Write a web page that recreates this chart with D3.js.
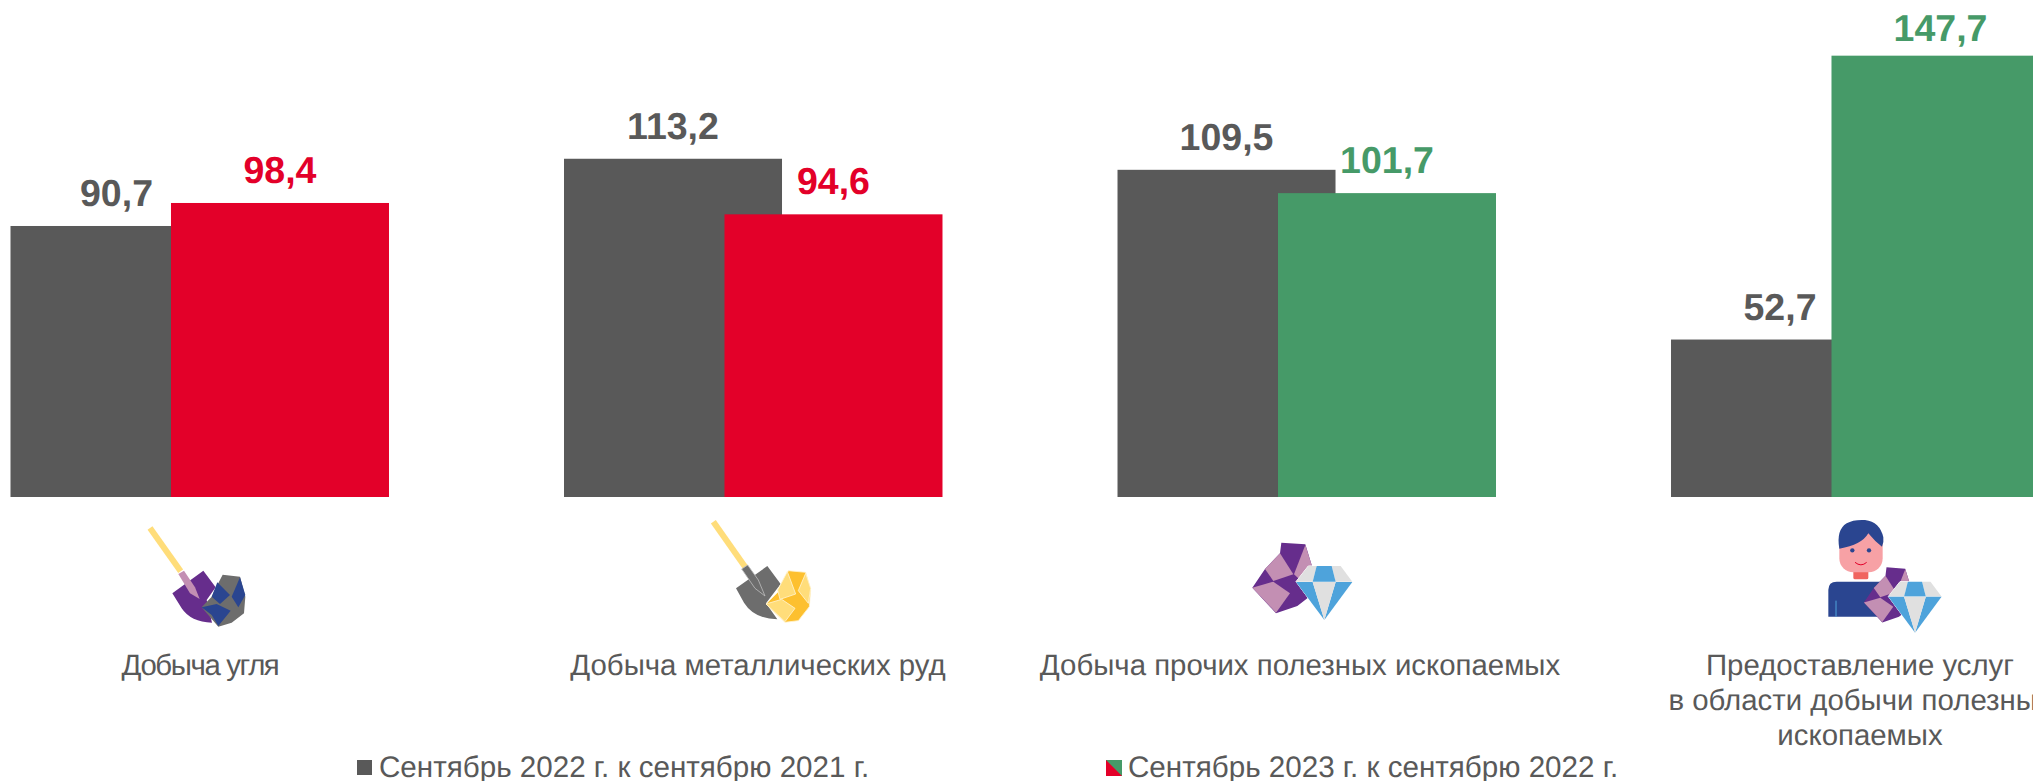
<!DOCTYPE html>
<html lang="ru"><head><meta charset="utf-8">
<script src="https://cdn.jsdelivr.net/npm/d3@7"></script>
<style>html,body{margin:0;padding:0;background:#fff;overflow:hidden}svg{display:block}text{font-family:"Liberation Sans",Arial,sans-serif;text-rendering:geometricPrecision}</style>
</head><body><svg id="c" width="2033" height="781"></svg>
<script>
const categories = ["Добыча угля","Добыча металлических руд","Добыча прочих полезных ископаемых","Предоставление услуг\nв области добычи полезных\nископаемых"];
const seriesNames = ["Сентябрь 2022 г. к сентябрю 2021 г.","Сентябрь 2023 г. к сентябрю 2022 г."];
const values2022 = [90.7,113.2,109.5,52.7];
const values2023 = [98.4,94.6,101.7,147.7];

const GRAY="#595959",RED="#E30029",GREEN="#469A68",TXT="#595959";
const YELLOW="#FFDD7A",PINK="#C38FB3",PURPLE="#662D8C",NAVY="#2A4590",ROCK="#6D6D6D",GOLD="#FDC02F",SKY="#4EA3DB",PALE="#E0E0E0";
const svg=d3.select("#c");
const fmt=v=>d3.format(".1f")(v).replace(".",",");
const x0=d3.scaleBand().domain(categories).range([10.5,2049.5]).paddingInner(.3162).paddingOuter(0);
const barW=x0.bandwidth()*.576;
const x1=d3.scalePoint().domain([0,1]).range([0,x0.bandwidth()-barW]);
const y=d3.scaleLinear().domain([0,150]).range([497,48.8]);
const colorB=v=>v>=100?GREEN:RED;
const rows=categories.map((c,i)=>[{c,s:0,i,v:values2022[i],col:GRAY},{c,s:1,i,v:values2023[i],col:colorB(values2023[i])}]);
const g=svg.selectAll("g.cat").data(rows).join("g").attr("class","cat");
g.selectAll("rect").data(d=>d).join("rect")
 .attr("x",d=>x0(d.c)+x1(d.s)).attr("width",barW)
 .attr("y",d=>y(d.v)).attr("height",d=>y(0)-y(d.v)).attr("fill",d=>d.col);
const labelNudge=[[-3,0],[0,0],[0,0],[0,0]];
const labelGap=d=>(d.i===3&&d.s===1)?15:20;
g.selectAll("text").data(d=>d).join("text")
 .attr("x",d=>x0(d.c)+x1(d.s)+barW/2+labelNudge[d.i][d.s]).attr("y",d=>y(d.v)-labelGap(d))
 .attr("text-anchor","middle").attr("font-size",37.5).attr("font-weight",700)
 .attr("fill",d=>d.col).text(d=>fmt(d.v));

// category labels
const labelCenter=[200,758,1300,1860];
const labelSpacing=[-1.4,0,0,0];
svg.selectAll("text.lab").data(categories).join("text").attr("class","lab")
 .attr("text-anchor","middle").attr("font-size",29.4).attr("fill",TXT)
 .attr("letter-spacing",(d,i)=>labelSpacing[i])
 .each(function(d,i){d3.select(this).selectAll("tspan").data(d.split("\n")).join("tspan")
   .attr("x",labelCenter[i]).attr("y",(t,j)=>675+j*35).text(t=>t);});

// legend
const lg=svg.append("g");
const lx=[357,1106];
lg.append("rect").attr("x",lx[0]).attr("y",760).attr("width",15).attr("height",15).attr("fill",GRAY);
lg.append("rect").attr("x",lx[1]).attr("y",760).attr("width",16).attr("height",16).attr("fill",GREEN);
lg.append("path").attr("d",d3.line()([[lx[1],760],[lx[1]+16,776],[lx[1],776]])+"Z").attr("fill",RED);
lg.selectAll("text").data(seriesNames).join("text").attr("x",(d,i)=>lx[i]+(i?22:22)).attr("y",777)
 .attr("font-size",29.6).attr("fill",TXT).text(d=>d);

// icons, drawn in 3x crop units
function icon(ox,oy){return svg.append("g").attr("transform",`translate(${ox},${oy}) scale(${1/3})`);}
function poly(p,pts,fill,stroke){return p.append("polygon").attr("points",pts).attr("fill",fill).attr("stroke",stroke||"none").attr("stroke-width",stroke?2.5:0).attr("stroke-linejoin","round");}
function line(p,a,col,w){p.append("line").attr("x1",a[0]).attr("y1",a[1]).attr("x2",a[2]).attr("y2",a[3]).attr("stroke",col).attr("stroke-width",w);}

const i1=icon(100,500);
line(i1,[150,84,242,214],YELLOW,18);
i1.append("path").attr("d","M217,280 L310,212 L347,262 L320,300 L336,368 Q272,366 245,325 Z").attr("fill",PURPLE);
poly(i1,"235,222 252,212 285,262 299,297 270,280",PINK);
poly(i1,"368,224 420,230 436,290 432,340 395,368 355,380 305,322 335,290 352,255",ROCK);
poly(i1,"352,247 390,285 360,312 335,290",NAVY);
poly(i1,"420,232 436,285 415,322 395,290",NAVY);
poly(i1,"305,322 350,312 392,332 355,378 335,345",NAVY);

const i2=icon(680,500);
line(i2,[100,65,195,200],YELLOW,18);
i2.append("path").attr("d","M168,265 L262,198 L302,252 L258,310 L292,358 Q222,356 192,308 Z").attr("fill",ROCK);
poly(i2,"185,207 203,195 235,240 255,288 225,265",ROCK,"#bbbbbb");
poly(i2,"325,212 377,217 392,270 388,320 355,362 315,367 258,312 300,270",GOLD,"#fff3d0");
poly(i2,"322,215 347,282 300,298 293,270",YELLOW,"#fff3d0");
poly(i2,"377,220 392,265 385,310 355,272",YELLOW,"#fff3d0");
poly(i2,"258,312 305,298 345,325 315,365",YELLOW,"#fff3d0");

function rock(p){
 poly(p,"184,68 256,73 275,135 262,235 232,258 168,280 97,203 135,147 180,100",PURPLE);
 poly(p,"180,100 220,163 160,183 135,147",PINK);
 poly(p,"256,75 275,135 262,200 222,163",PINK);
 poly(p,"97,203 160,185 210,220 168,278",PINK);
}
function diamond(p){
 poly(p,"265,138 290,138 278,185 228,185",PALE);
 poly(p,"335,138 362,138 397,185 347,185",PALE);
 poly(p,"290,138 335,138 347,185 278,185",SKY);
 poly(p,"228,186 278,186 313,300",SKY);
 poly(p,"347,186 397,186 313,300",SKY);
 poly(p,"278,186 347,186 313,300",PALE);
}
const i3=icon(1220,520);
rock(i3);
i3.append("polygon").attr("points","228,185 265,138 362,138 397,187 313,300").attr("fill","#fff").attr("stroke","#fff").attr("stroke-width",3);
diamond(i3);

const i4=icon(1800,510);
i4.append("path").attr("d","M85,320 L85,240 Q85,215 110,215 L255,215 L255,320 Z").attr("fill",NAVY);
line(i4,[108,272,108,320],"#4EA3DB",3);
i4.append("rect").attr("x",160).attr("y",180).attr("width",45).attr("height",28).attr("rx",5).attr("fill","#F0645F");
i4.append("rect").attr("x",118).attr("y",55).attr("width",130).attr("height",132).attr("rx",42).attr("fill","#F7A1A5");
i4.append("path").attr("d","M118,116 Q108,60 140,40 Q160,28 195,30 Q240,36 250,82 Q252,95 246,110 Q225,95 205,70 Q185,105 118,116 Z").attr("fill",NAVY);
i4.append("circle").attr("cx",157).attr("cy",121).attr("r",6.5).attr("fill",NAVY);
i4.append("circle").attr("cx",207).attr("cy",121).attr("r",6.5).attr("fill",NAVY);
i4.append("path").attr("d","M165,157 Q183,172 200,157").attr("fill","none").attr("stroke",RED).attr("stroke-width",3);
const r4=i4.append("g").attr("transform","translate(116,119) scale(.78)");
rock(r4);
const d4=i4.append("g").attr("transform","translate(49.5,84.6) scale(.945)");
d4.append("polygon").attr("points","228,185 265,138 362,138 397,187 313,300").attr("fill","#fff").attr("stroke","#fff").attr("stroke-width",3);
diamond(d4);
</script></body></html>
